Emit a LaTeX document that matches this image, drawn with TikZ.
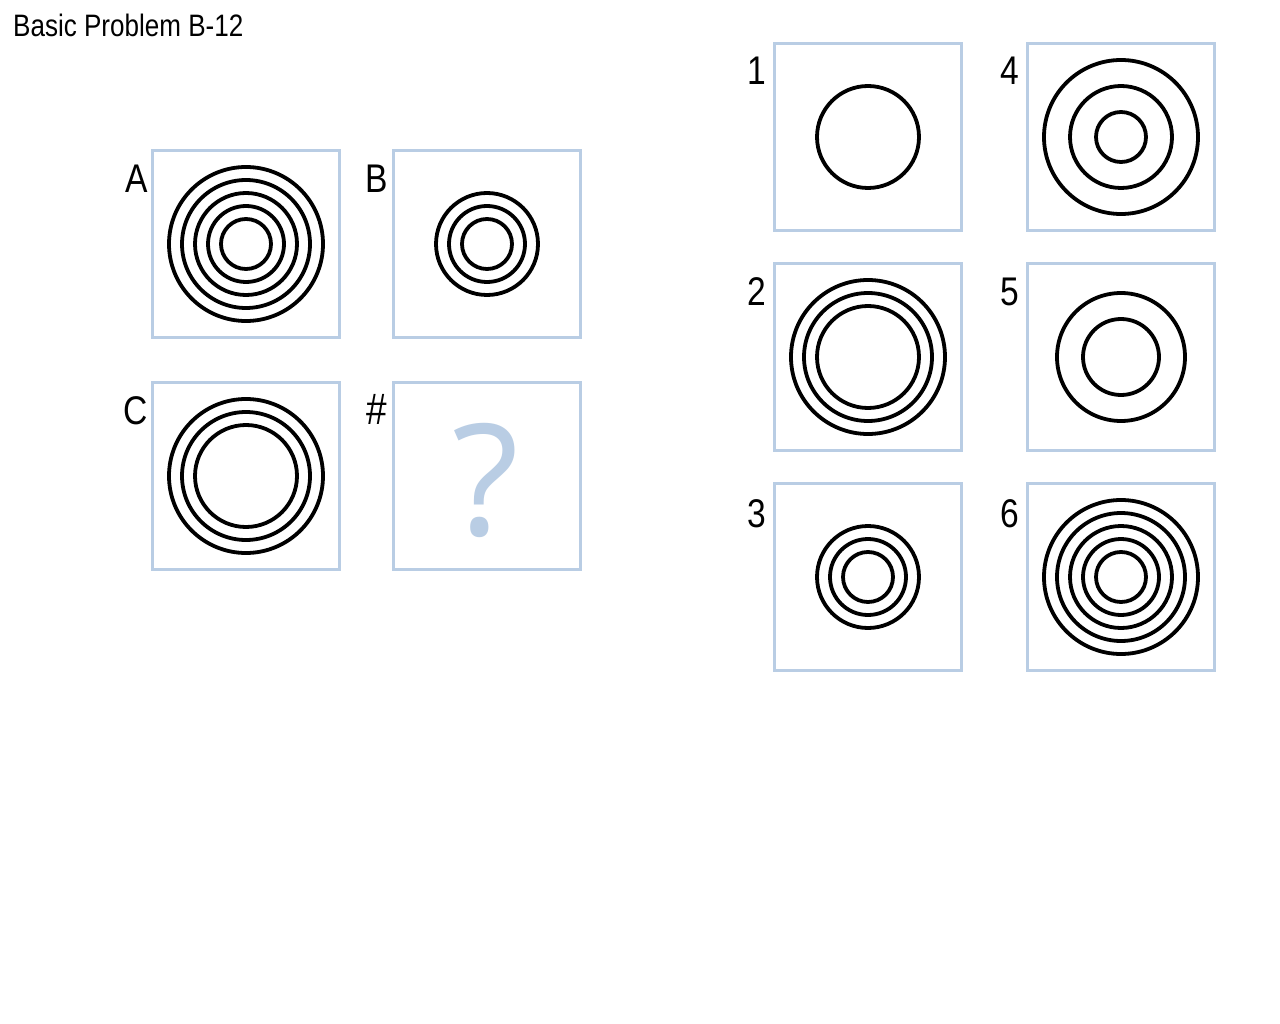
\documentclass[tikz,border=0pt]{standalone}
\usepackage{fontspec}
\setmainfont[FakeStretch=0.84]{Liberation Sans}
\newfontfamily\qfont{Open Sans}
\definecolor{boxblue}{RGB}{185,205,228}
\begin{document}
\begin{tikzpicture}[x=1pt,y=-1pt,
  panel/.style={draw=boxblue,line width=3pt,minimum width=187pt,minimum height=187pt,inner sep=0pt,outer sep=0pt},
  ring/.style={draw=black,line width=3.8pt},
  lab/.style={anchor=base east,inner sep=0pt,font=\fontsize{40}{44}\selectfont}]
\useasboundingbox (0,0) rectangle (1280,1024);
\fill[white] (0,0) rectangle (1280,1024);
\node[anchor=base west,inner sep=0pt,font=\fontsize{31}{34}\selectfont] (title) at (13,37) {Basic Problem B-12};
% matrix
\node[panel] (A) at (246,244) {};
\node[panel] (B) at (487,244) {};
\node[panel] (C) at (246,476) {};
\node[panel] (Q) at (487,476) {};
\node[lab] (lA) at (148,193) {A};
\node[lab] (lB) at (388,193) {B};
\node[lab] (lC) at (148,424) {C};
\node[lab,font=\fontsize{44}{48}\selectfont] (lQ) at (387,424) {\#};
\node[font=\qfont\fontsize{155}{155}\selectfont,text=boxblue,inner sep=0pt] (qm) at (486,480) {?};
% answers
\node[panel] (P1) at (868,137) {};
\node[panel] (P4) at (1121,137) {};
\node[panel] (P2) at (868,357) {};
\node[panel] (P5) at (1121,357) {};
\node[panel] (P3) at (868,577) {};
\node[panel] (P6) at (1121,577) {};
\node[lab] (l1) at (766,85) {1};
\node[lab] (l4) at (1019,85) {4};
\node[lab] (l2) at (766,306) {2};
\node[lab] (l5) at (1019,306) {5};
\node[lab] (l3) at (766,527) {3};
\node[lab] (l6) at (1019,527) {6};
% rings
\foreach \r in {77,64,51,38,25} \draw[ring] (A.center) circle (\r);
\foreach \r in {51,38,25} \draw[ring] (B.center) circle (\r);
\foreach \r in {77,64,51} \draw[ring] (C.center) circle (\r);
\foreach \r in {51} \draw[ring] (P1.center) circle (\r);
\foreach \r in {77,51,25} \draw[ring] (P4.center) circle (\r);
\foreach \r in {77,64,51} \draw[ring] (P2.center) circle (\r);
\foreach \r in {64,38} \draw[ring] (P5.center) circle (\r);
\foreach \r in {51,38,25} \draw[ring] (P3.center) circle (\r);
\foreach \r in {77,64,51,38,25} \draw[ring] (P6.center) circle (\r);
\end{tikzpicture}
\end{document}
